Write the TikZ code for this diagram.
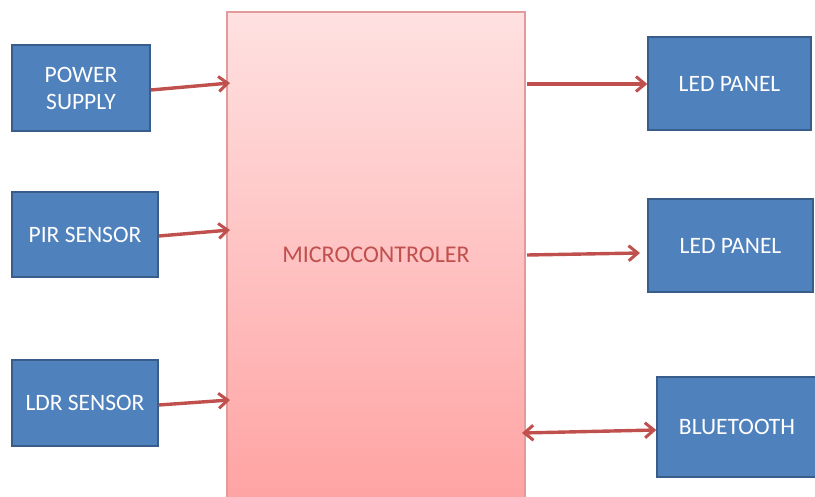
\documentclass[tikz,border=0pt]{standalone}
\usepackage{fontspec}
\setmainfont{Carlito}
\usetikzlibrary{arrows.meta}
\definecolor{boxblue}{HTML}{4F81BD}
\definecolor{boxedge}{HTML}{385D8A}
\definecolor{arrred}{HTML}{C0504D}
\definecolor{mcedge}{HTML}{E39A9A}
\definecolor{mctop}{HTML}{FFE1E1}
\definecolor{mcbot}{HTML}{FFA3A3}
\tikzset{
  blk/.style={draw=boxedge, line width=1.4pt, fill=boxblue, text=white, font=\fontsize{23.5}{27}\selectfont, align=center, inner sep=0pt},
  conn/.style={draw=arrred, line width=3.4pt, -{Straight Barb[length=9pt,width=15pt,line width=3pt]}},
  conn2/.style={draw=arrred, line width=3.4pt, {Straight Barb[length=9pt,width=15pt,line width=3pt]}-{Straight Barb[length=9pt,width=15pt,line width=3pt]}}
}
\begin{document}
\begin{tikzpicture}[x=1pt,y=-1pt]
\useasboundingbox (0,0) rectangle (815,496);
\fill[white] (0,0) rectangle (815,496);
\shade[top color=mctop, bottom color=mcbot, draw=mcedge, line width=1.2pt] (227,12) rectangle (525,500);
\node[text=arrred, font=\fontsize{24}{27}\selectfont] (mc) at (376,255) {MICROCONTROLER};
\coordinate (mcw) at (227,255);
\node[blk, minimum width=138, minimum height=86] (ps) at (81,88) {POWER\\SUPPLY};
\node[blk, minimum width=146, minimum height=85] (pir) at (85,234.5) {PIR SENSOR};
\node[blk, minimum width=146, minimum height=86] (ldr) at (85,403) {LDR SENSOR};
\node[blk, minimum width=163, minimum height=93] (led1) at (729.5,83.5) {LED PANEL};
\node[blk, minimum width=165, minimum height=93] (led2) at (730.5,245.5) {LED PANEL};
\node[blk, minimum width=160, minimum height=100] (bt) at (737,427) {BLUETOOTH};
\coordinate (a1) at (230,83);
\coordinate (a2) at (230,230);
\coordinate (a3) at (230,400);
\coordinate (b1) at (527,84);
\coordinate (b2) at (527,255);
\coordinate (b3) at (522,433);
\coordinate (c2) at (640,253);
\draw[conn] (ps.east |- 0,90) -- (a1);
\draw[conn] (pir.east |- 0,236) -- (a2);
\draw[conn] (ldr.east |- 0,405) -- (a3);
\draw[conn] (b1) -- (led1.west |- b1);
\draw[conn] (b2) -- (c2);
\draw[conn2] (b3) -- (bt.west |- 0,430);
\end{tikzpicture}
\end{document}
